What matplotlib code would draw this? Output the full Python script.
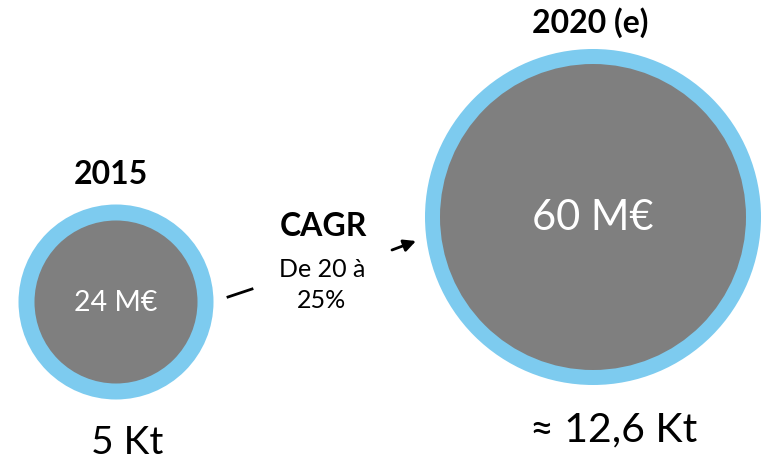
import matplotlib.pyplot as plt
from matplotlib.patches import Circle

plt.rcParams['font.family'] = ['Lato', 'DejaVu Sans']

years = ["2015", "2020 (e)"]
values = ["24 M€", "60 M€"]
volumes = ["5 Kt", "≈ 12,6 Kt"]
cagr_title = "CAGR"
cagr_text = "De 20 à\n25%"

blue = "#7DCBEF"
grey = "#7F7F7F"

# layout in pixel-like units (y downwards)
centers = [(116, 302), (593, 217)]
outer_r = [97.5, 168]
inner_r = [81.5, 153]
year_pos = [(111, 175), (590, 23)]
vol_pos = [(127, 443), (614, 430)]
val_size = [20.5, 30]
vol_size = [28, 29.5]

fig = plt.figure(figsize=(7.68, 4.62), dpi=100)
ax = fig.add_axes([0, 0, 1, 1])
ax.set_xlim(0, 768)
ax.set_ylim(462, 0)
ax.set_aspect("equal")
ax.axis("off")

for i in range(2):
    cx, cy = centers[i]
    ax.add_patch(Circle((cx, cy), outer_r[i], color=blue, lw=0))
    ax.add_patch(Circle((cx, cy), inner_r[i], color=grey, lw=0))
    ax.text(cx, cy + 1, values[i], color="white", fontsize=val_size[i],
            ha="center", va="center")
    ax.text(year_pos[i][0], year_pos[i][1], years[i], fontsize=23,
            fontweight="bold", ha="center", va="center")
    ax.text(vol_pos[i][0], vol_pos[i][1], volumes[i], fontsize=vol_size[i],
            ha="center", va="center")

# CAGR label and broken arrow
ax.text(323, 226, cagr_title, fontsize=23, fontweight="bold",
        ha="center", va="center")
ax.text(322, 285, cagr_text, fontsize=18, ha="center", va="center",
        linespacing=1.45)
ax.plot([228, 252], [297, 289], color="black", lw=2)
ax.annotate("", xy=(416, 241), xytext=(392, 250),
            arrowprops=dict(arrowstyle="-|>", color="black", lw=2,
                            mutation_scale=18, shrinkA=0, shrinkB=0))

fig.savefig("out.png", dpi=100)
